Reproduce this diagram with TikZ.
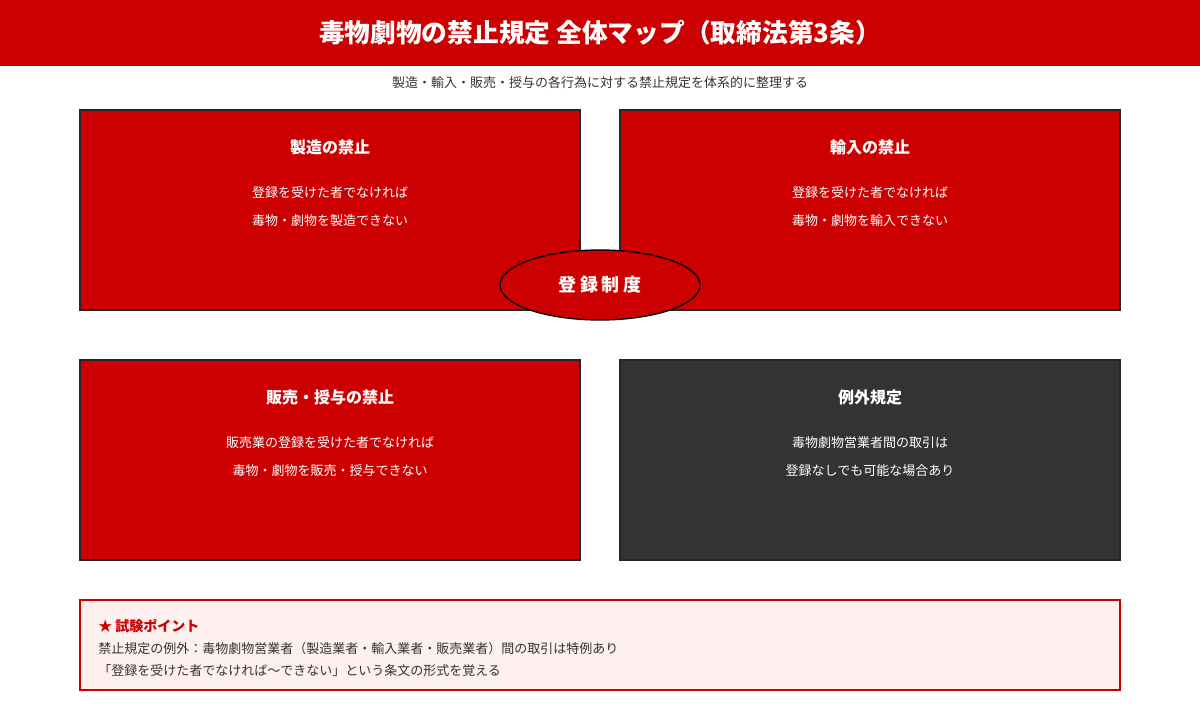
\documentclass[tikz,border=0pt]{standalone}
\usepackage{fontspec}
\setmainfont{Noto Sans CJK JP}
\usetikzlibrary{positioning,shapes.geometric}
\definecolor{mapred}{HTML}{CC0000}
\definecolor{mapdark}{HTML}{333333}
\definecolor{mappink}{HTML}{FFF0F0}
\tikzstyle{panel}=[draw=black!85,line width=1.1pt,fill=mapred,
  minimum width=375pt,minimum height=150pt,inner sep=0pt]
\tikzstyle{ptitle}=[text=white,font=\bfseries\fontsize{12}{14}\selectfont]
\tikzstyle{pline}=[text=white,font=\fontsize{9.75}{12}\selectfont]
\tikzstyle{tipline}=[text=mapdark,anchor=west,inner sep=0pt,
  font=\fontsize{9.75}{12}\selectfont]

\begin{document}
\begin{tikzpicture}[x=0.75pt, y=-0.75pt, on grid]
  \useasboundingbox (0,0) rectangle (1200,720);

  \node[fill=mapred,minimum width=900pt,minimum height=49.5pt,text=white,
    font=\bfseries\fontsize{19.3}{22}\selectfont] (head) at (600,33)
  {毒物劇物の禁止規定 全体マップ（取締法第3条）};
  \node[text=mapdark,font=\fontsize{9.75}{12}\selectfont] (sub) at (600,83)
  {製造・輸入・販売・授与の各行為に対する禁止規定を体系的に整理する};

  \node[panel] (make) at (330,210) {};
  \node[panel] (imp) at (870,210) {};
  \node[panel] (sell) at (330,460) {};
  \node[panel,fill=mapdark] (exc) at (870,460) {};

  \node[ptitle,below=19.5pt of make.north] (maket) {製造の禁止};
  \node[pline,below=33.75pt of maket] (make1) {登録を受けた者でなければ};
  \node[pline,below=21pt of make1] (make2) {毒物・劇物を製造できない};

  \node[ptitle,below=19.5pt of imp.north] (impt) {輸入の禁止};
  \node[pline,below=33.75pt of impt] (imp1) {登録を受けた者でなければ};
  \node[pline,below=21pt of imp1] (imp2) {毒物・劇物を輸入できない};

  \node[ptitle,below=19.5pt of sell.north] (sellt) {販売・授与の禁止};
  \node[pline,below=33.75pt of sellt] (sell1) {販売業の登録を受けた者でなければ};
  \node[pline,below=21pt of sell1] (sell2) {毒物・劇物を販売・授与できない};

  \node[ptitle,below=19.5pt of exc.north] (exct) {例外規定};
  \node[pline,below=33.75pt of exct] (exc1) {毒物劇物営業者間の取引は};
  \node[pline,below=21pt of exc1] (exc2) {登録なしでも可能な場合あり};

  % registration system sits over the top row
  \node[ellipse,draw=black,line width=1pt,fill=mapred,text=white,
    minimum width=150pt,minimum height=52.5pt,
    font=\bfseries\fontsize{13.5}{16}\selectfont] (reg) at (600,285)
  {登\hspace{3pt}録\hspace{3pt}制\hspace{3pt}度};

  \node[draw=mapred,line width=1.5pt,fill=mappink,minimum width=780pt,
    minimum height=67.5pt] (tip) at (600,645) {};
  \node[tipline,text=mapred,font=\bfseries\fontsize{10.5}{12}\selectfont]
  (tipt) at (98,626) {★ 試験ポイント};
  \node[tipline] (tip1) at (98,649)
  {禁止規定の例外：毒物劇物営業者（製造業者・輸入業者・販売業者）間の取引は特例あり};
  \node[tipline] (tip2) at (98,671)
  {「登録を受けた者でなければ〜できない」という条文の形式を覚える};
\end{tikzpicture}
\end{document}
